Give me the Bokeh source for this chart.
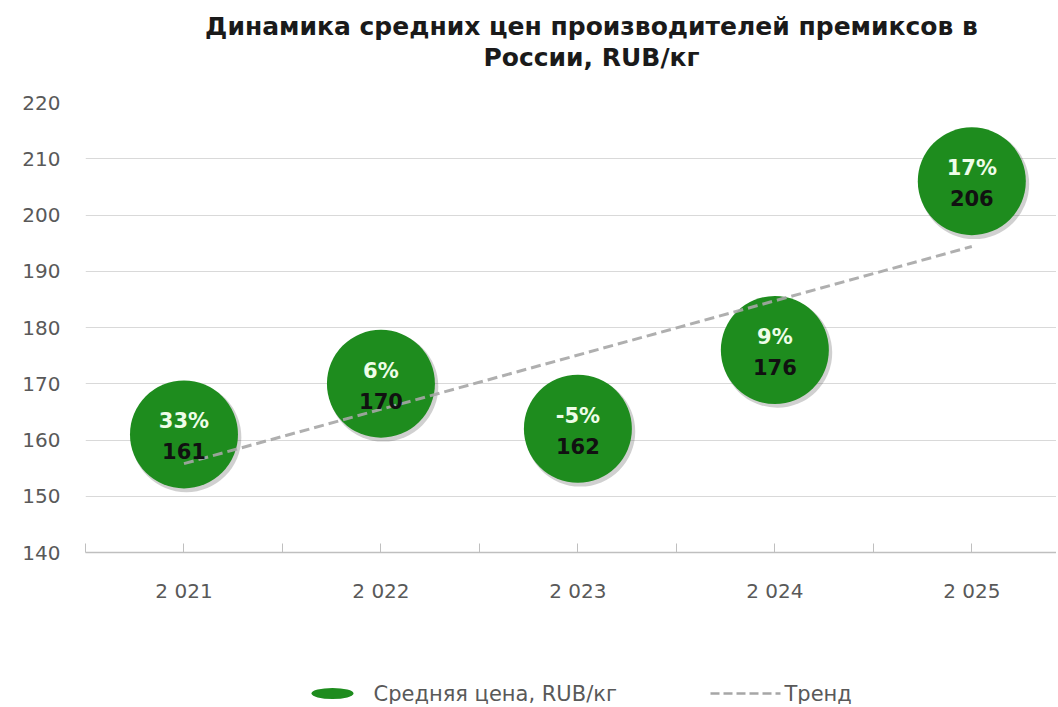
from bokeh.plotting import figure
from bokeh.layouts import column
from bokeh.models import Range1d, FixedTicker, ColumnDataSource
from bokeh.transform import dodge
from bokeh.core.properties import value
from bokeh.embed import file_html
from bokeh.resources import INLINE

# ---- data ----
title_lines = ["Динамика средних цен производителей премиксов в", "России, RUB/кг"]
years = ["2 021", "2 022", "2 023", "2 024", "2 025"]
prices = [161, 170, 162, 176, 206]
growth = ["33%", "6%", "-5%", "9%", "17%"]
trend_ends = [155.8, 194.4]
y_ticks = [140, 150, 160, 170, 180, 190, 200, 210, 220]
grid_ticks = [150, 160, 170, 180, 190, 200, 210]
legend_labels = ["Средняя цена, RUB/кг", "Тренд"]

FONT = "DejaVu Sans"
GREEN = "#1e8c1e"
GREY_TXT = "#595959"
W = 1056
LEFT = 85

def blank_fig(h, y_top):
    # frame is aligned with the main chart's frame (LEFT..W), so data x == page pixel
    f = figure(width=W, height=h, x_range=Range1d(LEFT, W), y_range=Range1d(y_top + h, y_top),
               output_backend="svg", toolbar_location=None, min_border=0, min_border_left=LEFT,
               x_axis_location=None, y_axis_location=None, outline_line_color=None)
    f.grid.visible = False
    return f

# ---- title ----
tf = blank_fig(80, 0)
tf.text(x=[591, 591], y=[26, 57], text=title_lines, text_font=value(FONT), text_font_style="bold",
        text_font_size="25px", text_color="#1a1a1a", text_align="center", text_baseline="middle")

# ---- main chart ----
xs = list(range(len(years)))
src = ColumnDataSource(dict(x=xs, y=prices, pct=growth, val=[str(v) for v in prices]))

p = figure(width=W, height=584, x_range=Range1d(-0.5, 4.43), y_range=Range1d(140, 220),
           output_backend="svg", toolbar_location=None,
           min_border_left=LEFT, min_border_right=0, min_border_top=22, min_border_bottom=112,
           outline_line_color=None, background_fill_color="white", border_fill_color="white")

p.yaxis.ticker = FixedTicker(ticks=y_ticks)
p.yaxis.axis_line_color = None
p.yaxis.major_tick_line_color = None
p.yaxis.minor_tick_line_color = None
p.yaxis.major_label_text_font = FONT
p.yaxis.major_label_text_font_size = "20px"
p.yaxis.major_label_text_color = GREY_TXT
p.yaxis.major_label_standoff = 19

p.xaxis.ticker = FixedTicker(ticks=xs, minor_ticks=[x - 0.5 for x in xs] + [xs[-1] + 0.5])
p.xaxis.major_label_overrides = {x: lab for x, lab in zip(xs, years)}
p.xaxis.axis_line_color = "#bfbfbf"
p.xaxis.axis_line_width = 1.5
p.xaxis.major_tick_line_color = "#bfbfbf"
p.xaxis.minor_tick_line_color = "#bfbfbf"
p.xaxis.major_tick_in = 9
p.xaxis.major_tick_out = 0
p.xaxis.minor_tick_in = 9
p.xaxis.minor_tick_out = 0
p.xaxis.major_label_text_font = FONT
p.xaxis.major_label_text_font_size = "20px"
p.xaxis.major_label_text_color = GREY_TXT
p.xaxis.major_label_standoff = 26

p.xgrid.grid_line_color = None
p.ygrid.ticker = FixedTicker(ticks=grid_ticks)
p.ygrid.grid_line_color = "#d9d9d9"
p.ygrid.grid_line_width = 1.2

# bubbles (soft shadow + disc)
p.scatter(x=dodge("x", 0.012), y=dodge("y", -0.5), source=src, size=110, marker="circle",
          fill_color="#555555", fill_alpha=0.28, line_color=None)
p.scatter(x="x", y="y", source=src, size=108, marker="circle",
          fill_color=GREEN, line_color=None)

# trend line
p.line(x=[xs[0], xs[-1]], y=trend_ends, line_color="#a6a6a6", line_width=3,
       line_dash="10 5", line_alpha=0.9)

p.text(x="x", y="y", text="pct", source=src, y_offset=-13, text_font=value(FONT),
       text_font_style="bold", text_font_size="21px", text_color="#eefde8",
       text_align="center", text_baseline="middle")
p.text(x="x", y="y", text="val", source=src, y_offset=17, text_font=value(FONT),
       text_font_style="bold", text_font_size="21px", text_color="#111111",
       text_align="center", text_baseline="middle")

# ---- legend ----
lf = blank_fig(40, 664)
lf.ellipse(x=[332], y=[693], width=42, height=11, fill_color=GREEN, line_color=None)
lf.text(x=[373], y=[693], text=[legend_labels[0]], text_font=value(FONT), text_font_size="21px",
        text_color=GREY_TXT, text_align="left", text_baseline="middle")
lf.line(x=[710, 780], y=[693, 693], line_color="#a6a6a6", line_width=2.5, line_dash="9 4")
lf.text(x=[784], y=[693], text=[legend_labels[1]], text_font=value(FONT), text_font_size="21px",
        text_color=GREY_TXT, text_align="left", text_baseline="middle")

layout = column(tf, p, lf, spacing=0)
open("out.html", "w").write(file_html(layout, INLINE))
